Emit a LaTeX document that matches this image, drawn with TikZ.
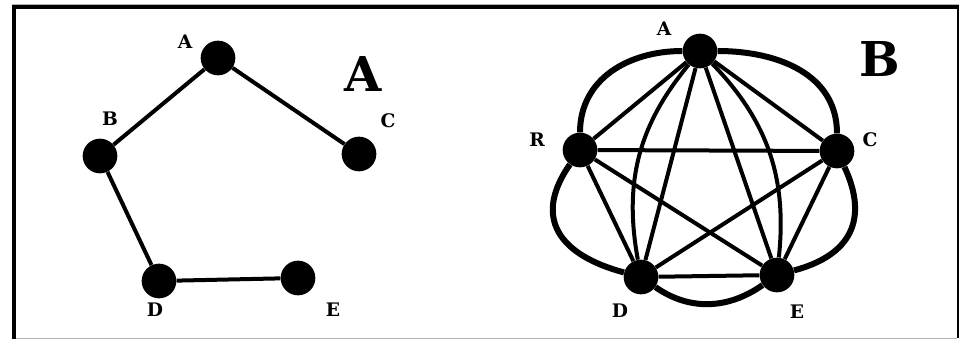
\documentclass[tikz,border=0pt]{standalone}
\usepackage{fontspec}
\setmainfont{DejaVu Serif}
\usepackage{tikz}
\usetikzlibrary{calc,positioning}

\begin{document}
\begin{tikzpicture}[
    x=0.75pt,
    y=0.75pt,
    every node/.style={font=\fontsize{14}{16}\selectfont\bfseries},
    vertex/.style={circle,fill=black,inner sep=0pt,minimum size=26pt},
    link/.style={line width=3pt},
    outer/.style={line width=4.5pt},
    bigtitle/.style={font=\fontsize{36}{40}\selectfont\bfseries}
]

\useasboundingbox (0,0) rectangle (959,339);

% Frame
\draw[gray!60,line width=0.75pt] (12,334.7) -- (959,334.7);
\draw[line width=3pt] (12,332) -- (958,332);
\draw[line width=3pt] (14,0) -- (14,333.5);
\draw[line width=1.5pt] (958,1) -- (958,333.5);
\draw[gray!60,line width=0.75pt] (16,0.8) -- (957,0.8);

% Graph A
\node[vertex] (la) at (218,281) {};
\node[vertex] (lb) at (100,183) {};
\node[vertex] (lc) at (359,185) {};
\node[vertex] (ld) at (159,58) {};
\node[vertex] (le) at (298,61) {};

\draw[link] (la) -- (lb);
\draw[link] (la) -- (lc);
\draw[link] (lb) -- (ld);
\draw[link] (ld) -- (le);

\node (la-lbl) at (185,297) {A};
\node (lb-lbl) at (110,220) {B};
\node (lc-lbl) at (388,218) {C};
\node (ld-lbl) at (155,29) {D};
\node (le-lbl) at (333,29) {E};
\node[bigtitle] (ltitle) at (363,265) {A};

% Graph B
\node[vertex] (ra) at (700,288) {};
\node[vertex] (rb) at (580,189) {};
\node[vertex] (rc) at (837,188) {};
\node[vertex] (rd) at (641,62) {};
\node[vertex] (re) at (777,64) {};

% outer arcs
\draw[outer] (ra) to[out=180,in=90,looseness=1.05] (rb);
\draw[outer] (ra) to[out=0,in=90,looseness=1.05] (rc);
\draw[outer] (rb) to[out=235,in=165,looseness=1.4] (rd);
\draw[outer] (rd) to[out=-35,in=-145] (re);
\draw[outer] (rc) to[out=-65,in=15,looseness=1.3] (re);

% complete graph
\foreach \u/\v in {ra/rb,ra/rc,ra/rd,ra/re,rb/rc,rb/rd,rb/re,rc/rd,rc/re,rd/re}
    \draw[link] (\u) -- (\v);
\draw[link] (ra) to[bend right=25] (rd);
\draw[link] (ra) to[bend left=25] (re);

\node (ra-lbl) at (664,310) {A};
\node (rb-lbl) at (537,199) {R};
\node (rc-lbl) at (870,199) {C};
\node (rd-lbl) at (620,28) {D};
\node (re-lbl) at (797,27) {E};
\node[bigtitle] (rtitle) at (880,280) {B};

\end{tikzpicture}
\end{document}
